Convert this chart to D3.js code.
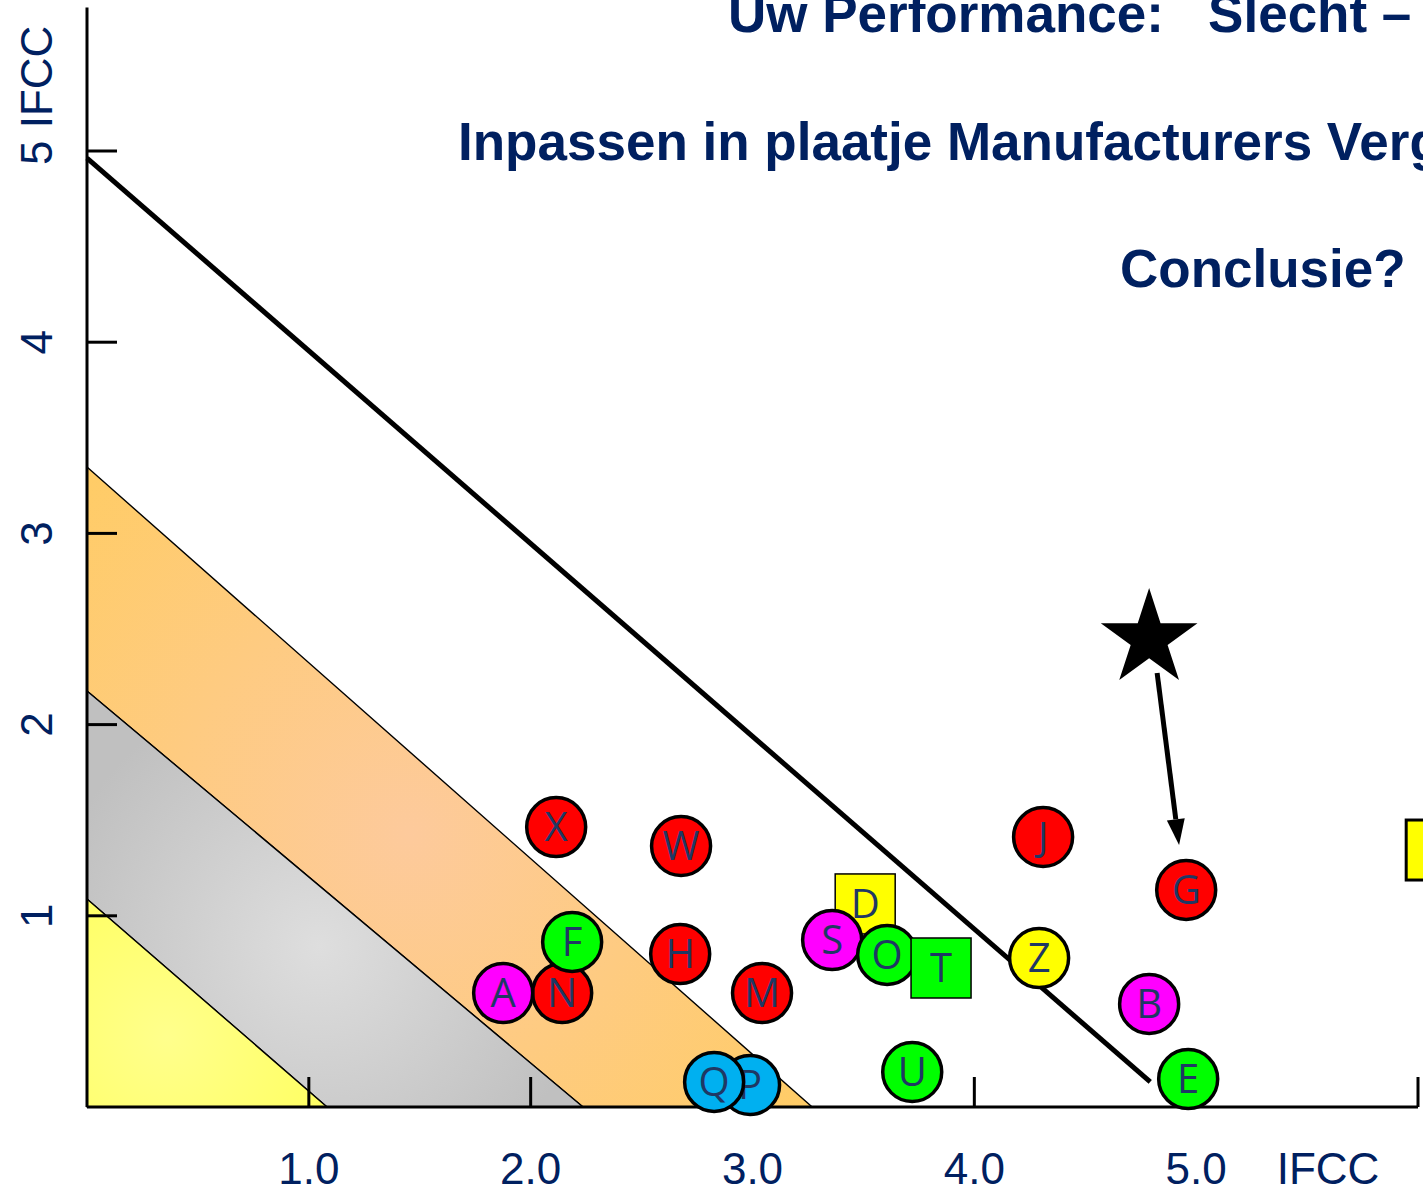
<!DOCTYPE html>
<html><head><meta charset="utf-8">
<script src="https://cdn.jsdelivr.net/npm/d3@7"></script>
<style>body{margin:0;background:#fff;overflow:hidden}svg{display:block}text{white-space:pre}</style>
</head><body><svg id="c" width="1423" height="1196"></svg>
<script>
// ---- data ----
const pointLabels = ["X","W","J","G","N","A","F","H","M","D","S","O","T","Z","B","U","P","Q","E",""];
const pointX =      [2.115,2.678,4.310,4.955,2.142,1.876,2.187,2.674,3.043,3.508,3.359,3.607,3.850,4.292,4.788,3.720,2.989,2.827,4.964,6.082];
const pointY =      [1.464,1.365,1.412,1.135,0.596,0.596,0.863,0.800,0.596,1.062,0.873,0.795,0.727,0.779,0.539,0.183,0.115,0.131,0.146,1.344];
const pointGroup =  ["red","red","red","red","red","magenta","green","red","red","yellow","magenta","green","green","yellow","magenta","green","blue","blue","green","yellow"];
const pointShape =  ["circle","circle","circle","circle","circle","circle","circle","circle","circle","square","circle","circle","square","circle","circle","circle","circle","circle","circle","square"];
const xTickValues = [1,2,3,4,5];
const xTickLabels = ["1.0","2.0","3.0","4.0","5.0"];
const xTickMarks = [1,2,3,4,5,6];
const yTickValues = [1,2,3,4,5];
const yTickLabels = ["1","2","3","4","5 IFCC"];
const bandYellow = [[0,0],[0,1.088],[1.082,0]];
const bandGray = [[0,1.088],[0,2.176],[2.236,0],[1.082,0]];
const bandOrange = [[0,2.176],[0,3.347],[3.269,0],[2.236,0]];
const limitLine = [[0,4.963],[4.793,0.131]];
const starPoint = [4.788,2.448];
const arrowLine = [[4.824,2.270],[4.923,1.370]];
const titles = ["Uw Performance:   Slecht –","Inpassen in plaatje Manufacturers Vergelijking","Conclusie?"];

// ---- scales ----
const x = d3.scaleLinear().domain([0,6]).range([87,1418]);
const y = d3.scaleLinear().domain([0,5]).range([1107,151]);
const fillColor = d3.scaleOrdinal().domain(["red","magenta","green","yellow","blue"])
  .range(["#ff0000","#ff00ff","#00ff00","#ffff00","#00b0f0"]);
const navy = "#002060";

const svg = d3.select("#c");
svg.append("rect").attr("width",1423).attr("height",1196).attr("fill","#fff");
const defs = svg.append("defs");

function radial(id, pts, c0, c1, rf, dx){
  const px = pts.map(p=>[x(p[0]),y(p[1])]);
  const c = d3.polygonCentroid(px);
  const ext = d3.extent(px,p=>p[0]), eyt = d3.extent(px,p=>p[1]);
  const r = Math.hypot(ext[1]-ext[0], eyt[1]-eyt[0]) * rf;
  const g = defs.append("radialGradient").attr("id",id).attr("gradientUnits","userSpaceOnUse")
    .attr("cx",c[0]+dx).attr("cy",c[1]).attr("r",r);
  g.append("stop").attr("offset","0").attr("stop-color",c0);
  g.append("stop").attr("offset","1").attr("stop-color",c1);
}
radial("gY", bandYellow, "#ffff8c", "#ffff66", 0.5, 0);
radial("gG", bandGray, "#dedede", "#c0c0c0", 0.42, 40);
radial("gO", bandOrange, "#fdca9c", "#ffcc66", 0.5, 20);

const line = d3.line().x(d=>x(d[0])).y(d=>y(d[1]));
function band(pts, fill){
  svg.append("path").attr("d", line(pts)+"Z").attr("fill",fill)
    .attr("stroke","#000").attr("stroke-width",1.4).attr("stroke-linejoin","round");
}
band(bandOrange,"url(#gO)");
band(bandGray,"url(#gG)");
band(bandYellow,"url(#gY)");

// limit line
svg.append("path").attr("d", line(limitLine)).attr("stroke","#000").attr("stroke-width",5).attr("fill","none");

// axes
svg.append("line").attr("x1",x(0)).attr("x2",x(6)).attr("y1",y(0)).attr("y2",y(0))
  .attr("stroke","#000").attr("stroke-width",3);
svg.append("line").attr("x1",x(0)).attr("x2",x(0)).attr("y1",y(0)).attr("y2",y(5.75))
  .attr("stroke","#000").attr("stroke-width",3);
svg.selectAll(".xt").data(xTickMarks).join("line")
  .attr("x1",d=>x(d)).attr("x2",d=>x(d)).attr("y1",y(0)).attr("y2",y(0)-30)
  .attr("stroke","#000").attr("stroke-width",3);
svg.selectAll(".yt").data(yTickValues).join("line")
  .attr("x1",x(0)).attr("x2",x(0)+30).attr("y1",d=>y(d)).attr("y2",d=>y(d))
  .attr("stroke","#000").attr("stroke-width",3);
svg.selectAll(".xl").data(xTickValues).join("text")
  .attr("x",d=>x(d)).attr("y",1184).attr("text-anchor","middle")
  .attr("font-family","Liberation Sans, Arial, sans-serif").attr("font-size",44).attr("fill",navy)
  .text((d,i)=>xTickLabels[i]);
svg.append("text").attr("x",1328).attr("y",1184).attr("text-anchor","middle")
  .attr("font-family","Liberation Sans, Arial, sans-serif").attr("font-size",44).attr("fill",navy)
  .text("IFCC");
svg.selectAll(".yl").data(yTickValues).join("text")
  .attr("transform",d=>`translate(52,${y(d)}) rotate(-90)`)
  .attr("text-anchor",(d,i)=> i===4 ? "start" : "middle")
  .attr("x",(d,i)=> i===4 ? -14 : 0)
  .attr("font-family","Liberation Sans, Arial, sans-serif").attr("font-size",44).attr("fill",navy)
  .text((d,i)=>yTickLabels[i]);

// points
const pts = pointLabels.map((l,i)=>({l, x:pointX[i], y:pointY[i], g:pointGroup[i], s:pointShape[i]}));
const pg = svg.append("g");
pts.forEach(p=>{
  const cx = x(p.x), cy = y(p.y);
  if(p.s==="circle"){
    pg.append("circle").attr("cx",cx).attr("cy",cy).attr("r",29.5)
      .attr("fill",fillColor(p.g)).attr("stroke","#000").attr("stroke-width",3.5);
  } else {
    pg.append("rect").attr("x",cx-30).attr("y",cy-30).attr("width",60).attr("height",60)
      .attr("fill",fillColor(p.g)).attr("stroke","#000").attr("stroke-width", p.l==="" ? 3 : 1.5);
  }
  if(p.l) pg.append("text").attr("x",cx).attr("y",cy+14).attr("text-anchor","middle")
    .attr("font-family","Open Sans, Noto Sans, sans-serif").attr("font-size",40).attr("fill","#1f3864")
    .text(p.l);
});

// star
svg.append("path").attr("d", d3.symbol(d3.symbolStar, 2900)())
  .attr("transform",`translate(${x(starPoint[0])},${y(starPoint[1])})`).attr("fill","#000");

// arrow
const a0 = [x(arrowLine[0][0]), y(arrowLine[0][1])], a1 = [x(arrowLine[1][0]), y(arrowLine[1][1])];
const ang = Math.atan2(a1[1]-a0[1], a1[0]-a0[0]);
const hl = 26, hw = 9;
const base = [a1[0]-hl*Math.cos(ang), a1[1]-hl*Math.sin(ang)];
svg.append("line").attr("x1",a0[0]).attr("y1",a0[1]).attr("x2",base[0]).attr("y2",base[1])
  .attr("stroke","#000").attr("stroke-width",5);
svg.append("path").attr("d", `M${a1[0]},${a1[1]} L${base[0]+hw*Math.sin(ang)},${base[1]-hw*Math.cos(ang)} L${base[0]-hw*Math.sin(ang)},${base[1]+hw*Math.cos(ang)} Z`)
  .attr("fill","#000");

// titles
const tpos = [[728,32],[458,160],[1120,287]];
svg.selectAll(".tt").data(titles).join("text")
  .attr("x",(d,i)=>tpos[i][0]).attr("y",(d,i)=>tpos[i][1])
  .attr("xml:space","preserve")
  .attr("font-family","Liberation Sans, Arial, sans-serif").attr("font-weight","bold")
  .attr("font-size",53).attr("fill",navy).text(d=>d);
</script></body></html>
